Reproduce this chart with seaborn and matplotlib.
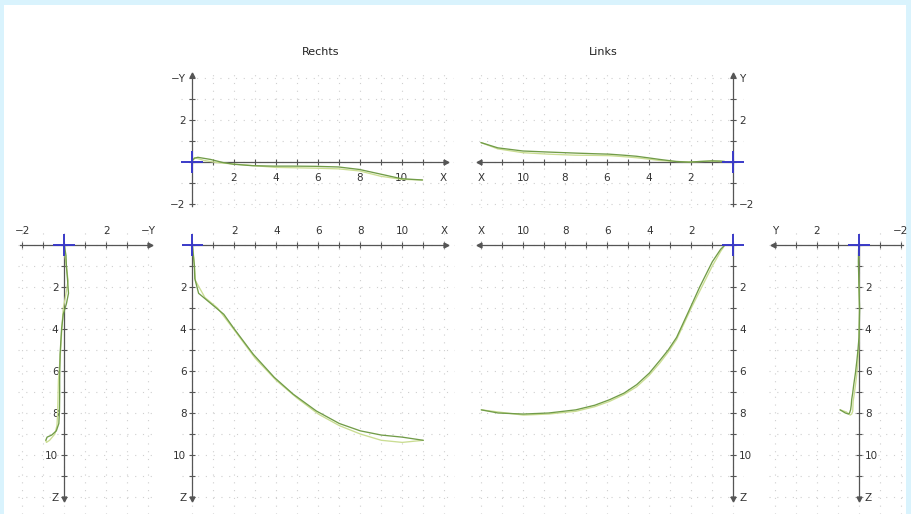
import pandas as pd
import matplotlib.pyplot as plt
import seaborn as sns
from matplotlib.patches import Rectangle
from matplotlib.ticker import MultipleLocator

W, H = 911, 514
U = 21.0  # pixels per unit

DARK = "#719c48"
LIGHT = "#cadd92"
AXIS = "#555555"
CROSS = "#3a3ac8"

# Rechts: outward (dark) and return (light) track, values x, -y, z
R_OUT_X = [0.0, 0.05, 0.1, 0.12, 0.3, 0.9, 1.5, 2.0, 2.9, 3.9, 4.8, 5.9, 7.0, 8.0, 9.0, 10.0, 11.0]
R_OUT_NY = [0.0, 0.08, 0.1, 0.15, 0.2, 0.1, -0.05, -0.13, -0.2, -0.22, -0.22, -0.23, -0.26, -0.38, -0.6, -0.82, -0.88]
R_OUT_Z = [0.0, 0.5, 1.0, 1.6, 2.3, 2.8, 3.3, 4.0, 5.2, 6.3, 7.1, 7.9, 8.5, 8.85, 9.05, 9.15, 9.3]

R_BACK_X = [11.0, 10.0, 9.0, 8.0, 7.0, 6.0, 5.0, 4.0, 3.0, 2.0, 1.2, 0.6, 0.15, 0.1, 0.05, 0.0]
R_BACK_NY = [-0.88, -0.85, -0.7, -0.45, -0.35, -0.32, -0.3, -0.28, -0.2, -0.12, -0.05, 0.05, 0.18, 0.1, 0.02, 0.0]
R_BACK_Z = [9.3, 9.4, 9.3, 9.0, 8.6, 8.05, 7.3, 6.45, 5.4, 4.05, 3.0, 2.5, 1.7, 1.0, 0.4, 0.0]

# Links: values x, y, z
L_OUT_X = [0.4, 0.6, 1.0, 1.6, 2.1, 2.7, 3.1, 3.5, 4.0, 4.6, 5.2, 5.9, 6.6, 7.5, 8.8, 10.0, 11.2, 12.0]
L_OUT_Y = [0.0, 0.02, 0.03, 0.0, -0.03, 0.0, 0.05, 0.1, 0.17, 0.25, 0.3, 0.35, 0.37, 0.4, 0.45, 0.5, 0.65, 0.9]
L_OUT_Z = [0.0, 0.2, 0.8, 2.0, 3.1, 4.4, 5.0, 5.5, 6.1, 6.65, 7.05, 7.37, 7.63, 7.85, 8.0, 8.05, 8.0, 7.85]

L_BACK_X = [12.0, 11.2, 10.0, 8.8, 7.5, 6.6, 5.9, 5.2, 4.6, 4.0, 3.5, 3.1, 2.7, 2.0, 1.5, 1.0, 0.6, 0.4]
L_BACK_Y = [0.9, 0.6, 0.42, 0.35, 0.3, 0.29, 0.28, 0.23, 0.18, 0.11, 0.05, 0.02, 0.0, -0.02, 0.0, 0.02, 0.0, 0.0]
L_BACK_Z = [7.85, 7.95, 8.1, 8.05, 7.92, 7.7, 7.45, 7.12, 6.75, 6.2, 5.62, 5.1, 4.5, 3.0, 2.0, 1.0, 0.3, 0.0]

XY_TICKS = [2, 4, 6, 8, 10, 12]
XY_LABELS = ["2", "4", "6", "8", "10", "X"]
Z_TICKS = [2, 4, 6, 8, 10, 12]
Z_LABELS = ["2", "4", "6", "8", "10", "Z"]
NY_TICKS = [-2, 2, 4]
NY_LABELS = ["\u22122", "2", "\u2212Y"]
Y_TICKS = [-2, 2, 4]
Y_LABELS = ["\u22122", "2", "Y"]


def track(xs, ys, zs, name):
    return pd.DataFrame({"x": xs, "y": ys, "z": zs, "pass": name})


def make_panel(fig, ox, oy, left, right, up, down):
    rect = [(ox - left * U) / W, (H - oy - down * U) / H,
            (left + right) * U / W, (up + down) * U / H]
    ax = fig.add_axes(rect)
    ax.set_facecolor("none")
    return ax


def style_panel(ax, xlim, ylim, xticks, xlabels, yticks, ylabels,
                xside, yside, xbounds, ybounds, xpad, ypad):
    ax.set_xlim(*xlim)
    ax.set_ylim(*ylim)
    other_x = "top" if xside == "bottom" else "bottom"
    other_y = "right" if yside == "left" else "left"
    ax.spines[other_x].set_visible(False)
    ax.spines[other_y].set_visible(False)
    ax.spines[xside].set_position(("data", 0))
    ax.spines[yside].set_position(("data", 0))
    ax.spines[xside].set_bounds(*xbounds)
    ax.spines[yside].set_bounds(*ybounds)
    for s in (xside, yside):
        ax.spines[s].set_color(AXIS)
        ax.spines[s].set_linewidth(0.9)
    ax.xaxis.set_ticks_position(xside)
    ax.yaxis.set_ticks_position(yside)
    ax.set_xticks(xticks, xlabels)
    ax.set_yticks(yticks, ylabels)
    ax.xaxis.set_minor_locator(MultipleLocator(1))
    ax.yaxis.set_minor_locator(MultipleLocator(1))
    ax.tick_params(which="both", direction="inout", length=4.5, width=0.8,
                   color=AXIS, labelsize=7.5, labelcolor="#333333")
    ax.tick_params(axis="x", which="both", pad=xpad)
    ax.tick_params(axis="y", which="both", pad=ypad)
    ax.grid(which="both", color="#cfcfcf", linestyle=(0, (1, 6)), linewidth=0.8)
    ax.set_xlabel("")
    ax.set_ylabel("")
    # arrow heads at the positive ends
    xm = ">" if xlim[1] > xlim[0] else "<"
    ym = "^" if ylim[1] > ylim[0] else "v"
    ax.plot(xbounds[1], 0, marker=xm, ms=3.5, color=AXIS, clip_on=False, zorder=4)
    ax.plot(0, ybounds[1], marker=ym, ms=3.5, color=AXIS, clip_on=False, zorder=4)
    ax.plot(0, 0, marker="+", ms=16, mew=1.4, color=CROSS, zorder=5)


def draw(ax, df, x, y):
    sns.lineplot(data=df, x=x, y=y, hue="pass", hue_order=["zurueck", "hin"],
                 palette={"hin": DARK, "zurueck": LIGHT}, sort=False,
                 estimator=None, legend=False, linewidth=0.95, ax=ax, zorder=3)


def main():
    sns.set_style("white")
    plt.rcParams["font.family"] = ["DejaVu Sans"]

    rechts = pd.concat([track(R_OUT_X, R_OUT_NY, R_OUT_Z, "hin"),
                        track(R_BACK_X, R_BACK_NY, R_BACK_Z, "zurueck")])
    links = pd.concat([track(L_OUT_X, L_OUT_Y, L_OUT_Z, "hin"),
                       track(L_BACK_X, L_BACK_Y, L_BACK_Z, "zurueck")])

    fig = plt.figure(figsize=(W / 100, H / 100), dpi=100)
    fig.patch.set_facecolor("#d9f3fd")
    fig.add_artist(Rectangle((4 / W, 0), 902 / W, 509 / H, transform=fig.transFigure,
                             facecolor="white", edgecolor="none", zorder=-10))

    # Rechts, top view
    ax = make_panel(fig, 191.5, 161.5, 0.5, 12.5, 4.3, 2.2)
    draw(ax, rechts, "x", "y")
    style_panel(ax, (-0.5, 12.5), (-2.2, 4.3), XY_TICKS, XY_LABELS, NY_TICKS, NY_LABELS,
                "bottom", "left", (0, 12.1), (-2.1, 4.1), 6, 2)

    # Links, top view
    ax = make_panel(fig, 733, 161.5, 12.5, 0.5, 4.3, 2.2)
    draw(ax, links, "x", "y")
    style_panel(ax, (12.5, -0.5), (-2.2, 4.3), XY_TICKS, XY_LABELS, Y_TICKS, Y_LABELS,
                "bottom", "right", (0, 12.1), (-2.1, 4.1), 6, 2)

    # Rechts, front view (-Y / Z)
    ax = make_panel(fig, 64.3, 245, 2.2, 4.3, 0.6, 12.8)
    draw(ax, rechts, "y", "z")
    style_panel(ax, (-2.2, 4.3), (12.8, -0.6), NY_TICKS, NY_LABELS, Z_TICKS, Z_LABELS,
                "top", "left", (-2.1, 4.1), (0, 12.1), 4, 2)

    # Rechts, side view (X / Z)
    ax = make_panel(fig, 192.3, 245, 0.5, 12.5, 0.6, 12.8)
    draw(ax, rechts, "x", "z")
    style_panel(ax, (-0.5, 12.5), (12.8, -0.6), XY_TICKS, XY_LABELS, Z_TICKS, Z_LABELS,
                "top", "left", (0, 12.1), (0, 12.1), 4, 2)

    # Links, side view (X / Z)
    ax = make_panel(fig, 733.3, 245, 12.5, 0.5, 0.6, 12.8)
    draw(ax, links, "x", "z")
    style_panel(ax, (12.5, -0.5), (12.8, -0.6), XY_TICKS, XY_LABELS, Z_TICKS, Z_LABELS,
                "top", "right", (0, 12.1), (0, 12.1), 4, 2)

    # Links, front view (Y / Z)
    ax = make_panel(fig, 859, 245, 4.3, 2.2, 0.6, 12.8)
    draw(ax, links, "y", "z")
    style_panel(ax, (4.3, -2.2), (12.8, -0.6), Y_TICKS, Y_LABELS, Z_TICKS, Z_LABELS,
                "top", "right", (-2.1, 4.1), (0, 12.1), 4, 2)

    fig.text(321 / W, 1 - 52 / H, "Rechts", ha="center", va="center", fontsize=8, color="#222222")
    fig.text(603 / W, 1 - 52 / H, "Links", ha="center", va="center", fontsize=8, color="#222222")

    fig.savefig("out.png", dpi=100, facecolor=fig.get_facecolor())


if __name__ == "__main__":
    main()
